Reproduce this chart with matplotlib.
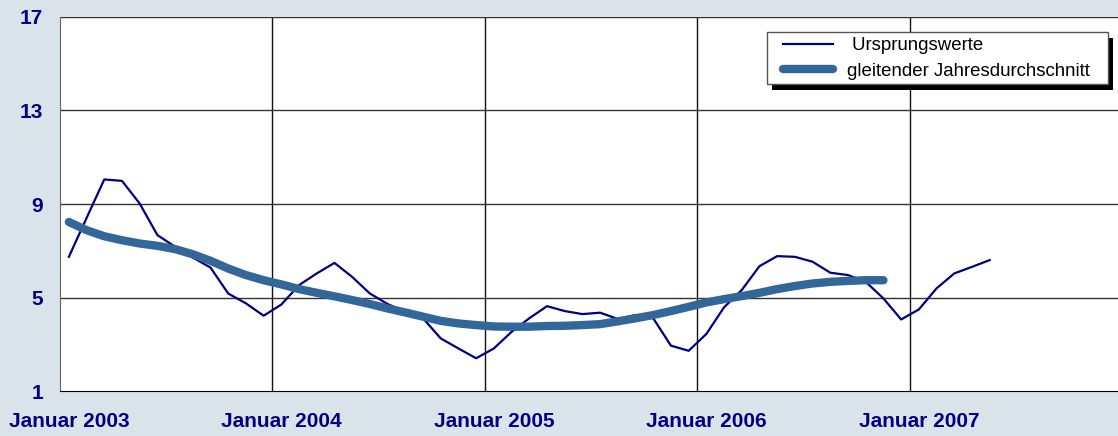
import matplotlib.pyplot as plt
import matplotlib.patches as mpatches
import numpy as np

# Monatswerte ab Januar 2003 (Index 0 = Jan 2003)
ursprungswerte = [
    6.74, 8.40, 10.05, 9.99, 9.02, 7.67, 7.17, 6.71, 6.28, 5.17, 4.75, 4.22,   # 2003
    4.70, 5.53, 6.03, 6.48, 5.88, 5.17, 4.72, 4.39, 4.11, 3.25, 2.82, 2.40,    # 2004
    2.82, 3.53, 4.11, 4.63, 4.42, 4.29, 4.35, 4.08, 4.25, 4.11, 2.94, 2.72,    # 2005
    3.44, 4.58, 5.32, 6.34, 6.77, 6.74, 6.53, 6.06, 5.96, 5.67, 4.96, 4.06,    # 2006
    4.49, 5.39, 6.03, 6.31, 6.60,                                              # 2007
]
gleitender_schnitt = [
    8.23, 7.88, 7.62, 7.45, 7.31, 7.21, 7.07, 6.85, 6.57, 6.24, 5.96, 5.74,
    5.56, 5.36, 5.20, 5.05, 4.89, 4.72, 4.53, 4.36, 4.18, 4.00, 3.89, 3.82,
    3.76, 3.75, 3.75, 3.78, 3.79, 3.82, 3.86, 3.98, 4.11, 4.25, 4.42, 4.60,
    4.79, 4.93, 5.06, 5.20, 5.36, 5.49, 5.60, 5.67, 5.71, 5.74, 5.74,
]
x_labels = ["Januar 2003", "Januar 2004", "Januar 2005", "Januar 2006", "Januar 2007"]
y_ticks = [1, 5, 9, 13, 17]

navy = "#000080"
blau = "#336699"
hintergrund = "#dbe3ea"

fig = plt.figure(figsize=(11.18, 4.36), dpi=100, facecolor=hintergrund)
ax = fig.add_axes([60 / 1118, 1 - 391 / 436, 1062.5 / 1118, 374 / 436])
ax.set_facecolor("white")

# Kategorien: Punkte in der Mitte des Monats
x_raw = np.arange(len(ursprungswerte)) + 0.5
x_ma = np.arange(len(gleitender_schnitt)) + 0.5

ax.plot(x_raw, ursprungswerte, color=navy, lw=1.6, label=" Ursprungswerte", zorder=3)
ax.plot(x_ma, gleitender_schnitt, color=blau, lw=6, solid_capstyle="round",
        label="gleitender Jahresdurchschnitt", zorder=4)

ax.set_xlim(0, 60)
ax.set_ylim(1, 17)

# Gitter an den Jahresgrenzen
for gx in [12, 24, 36, 48]:
    ax.axvline(gx, color="#111111", lw=1, zorder=1)
for gy in [5, 9, 13, 17]:
    ax.axhline(gy, color="#333333", lw=1, zorder=1)

ax.set_yticks(y_ticks)
ax.set_yticklabels([str(v) for v in y_ticks])
ax.set_xticks([0.5 + 12 * i for i in range(len(x_labels))])
ax.set_xticklabels(x_labels)
ax.tick_params(axis="both", length=0, colors=navy, labelsize=15)
ax.tick_params(axis="y", pad=12)
ax.tick_params(axis="x", pad=15)
for lbl in ax.get_xticklabels() + ax.get_yticklabels():
    lbl.set_fontweight("bold")
    lbl.set_fontfamily("Liberation Sans")

for side in ["top", "right"]:
    ax.spines[side].set_visible(False)
ax.spines["left"].set_color("#666666")
ax.spines["bottom"].set_color("black")

# Legendenrahmen mit Schatten von Hand (breiter als der Standardrahmen)
box_x, box_y, box_w, box_h = 0.6654, 0.8209, 0.3210, 0.1390
dx, dy = 5 / 1062.5, 6 / 374
ax.add_patch(mpatches.Rectangle((box_x + dx, box_y - dy), box_w, box_h,
                                transform=ax.transAxes, fc="black", ec="none",
                                zorder=9, clip_on=False))
ax.add_patch(mpatches.Rectangle((box_x, box_y), box_w, box_h,
                                transform=ax.transAxes, fc="white", ec="#555555",
                                lw=1, zorder=9.5, clip_on=False))

leg = ax.legend(loc="center left", bbox_to_anchor=(0.6805, 0.889), borderaxespad=0,
                frameon=False, prop={"family": "Liberation Sans", "size": 13.4},
                handlelength=2.69, handletextpad=0.75, labelspacing=0.45,
                borderpad=0)
leg.set_zorder(10)

fig.savefig("out.png", dpi=100, facecolor=hintergrund)
